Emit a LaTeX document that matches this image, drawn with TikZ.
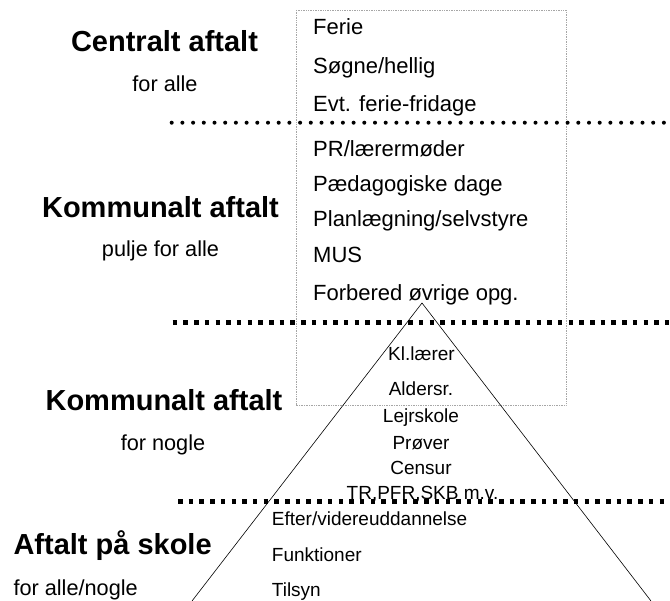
\documentclass[tikz,border=0pt]{standalone}
\usepackage{fontspec}
\setmainfont{Liberation Sans}
\begin{document}
\begin{tikzpicture}[x=1pt, y=-1pt,
		heading/.style={anchor=base, inner sep=0pt, font=\fontsize{29}{34}\selectfont\bfseries},
		sub/.style={anchor=base, inner sep=0pt, font=\fontsize{21.7}{26}\selectfont},
		item/.style={anchor=base west, inner sep=0pt, font=\fontsize{22}{26}\selectfont},
		pitem/.style={anchor=base, inner sep=0pt, font=\fontsize{19}{23}\selectfont},
		litem/.style={pitem, anchor=base west},
		dotline/.style={line width=4pt, line cap=round, dash pattern=on 0pt off 10.7pt},
		squareline/.style={line width=4.5pt, dash pattern=on 4.5pt off 6.2pt}]
		\useasboundingbox (0,0) rectangle (670,601);

		\coordinate (top) at (422, 303);
		\coordinate (bl) at (192, 601);
		\coordinate (br) at (651, 601);

		% niveauer til venstre
		\node[heading] (central) at (164.5, 52) {Centralt aftalt};
		\node[sub] (centralsub) at (165, 91.7) {for alle};
		\node[heading] (kommune) at (160.5, 218) {Kommunalt aftalt};
		\node[sub] (kommunesub) at (160.5, 256.7) {pulje for alle};
		\node[heading] (nogle) at (164, 410.7) {Kommunalt aftalt};
		\node[sub] (noglesub) at (163, 450.7) {for nogle};
		\node[heading, anchor=base west] (skole) at (13.3, 555) {Aftalt på skole};
		\node[sub, anchor=base west] (skolesub) at (13.3, 595) {for alle/nogle};

		% boksen
		\draw[gray!70, densely dotted, line width=0.7pt] (296, 10) rectangle (566, 405);
		\node[item] (ferie) at (313, 35) {Ferie};
		\node[item] (soegne) at (313, 73.5) {Søgne/hellig};
		\node[item] (fridage) at (313, 112) {Evt. ferie-fridage};
		\node[item] (pr) at (313, 156.5) {PR/lærermøder};
		\node[item] (paed) at (313, 191.7) {Pædagogiske dage};
		\node[item] (plan) at (313, 227) {Planlægning/selvstyre};
		\node[item] (mus) at (313, 263) {MUS};
		\node[item] (forbered) at (313, 300.5) {Forbered øvrige opg.};

		% pyramiden
		\node[pitem] (kl) at (421.5, 360.7) {Kl.lærer};
		\node[pitem] (alders) at (421, 395.7) {Aldersr.};
		\node[pitem] (lejr) at (421, 422.7) {Lejrskole};
		\node[pitem] (proever) at (421, 449.3) {Prøver};
		\node[pitem] (censur) at (421, 475) {Censur};
		\node[pitem] (tr) at (422.5, 500) {TR,PFR,SKB m.v.};
		\node[litem] (efter) at (271.7, 526) {Efter/videreuddannelse};
		\node[litem] (funk) at (271.7, 561.7) {Funktioner};
		\node[litem] (tilsyn) at (271.7, 596.7) {Tilsyn};

		\draw[line width=0.6pt] (bl) -- (top) -- (br);

		% skillelinjer
		\draw[dotline] (171.7, 122.7) -- (670, 122.7);
		\draw[squareline] (172.7, 322.7) -- (670, 322.7);
		\draw[squareline] (178, 501.7) -- (670, 501.7);
	\end{tikzpicture}
\end{document}
